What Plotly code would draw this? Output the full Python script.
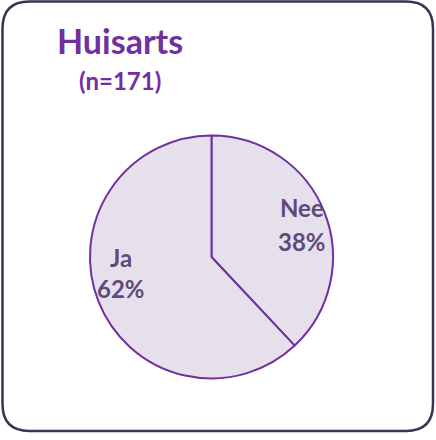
import plotly.graph_objects as go

labels = ["Nee", "Ja"]
values = [38, 62]
title_text = "Huisarts"
subtitle_text = "(n=171)"

W, H = 436, 440

fig = go.Figure()
fig.add_trace(go.Pie(
    labels=labels,
    values=values,
    sort=False,
    direction="clockwise",
    rotation=0,
    marker=dict(colors=["#e6e0ec", "#e6e0ec"], line=dict(color="#7030a0", width=2)),
    textposition="none",
    hoverinfo="label+percent",
    showlegend=False,
    domain=dict(x=[90 / W, 333 / W], y=[1 - 378.5 / H, 1 - 135.5 / H]),
))

# rounded border
x0, x1, y0, y1 = 2.5, 433, 1.5, 431
r = 27
path = (f"M {x0+r},{y0} L {x1-r},{y0} Q {x1},{y0} {x1},{y0+r} "
        f"L {x1},{y1-r} Q {x1},{y1} {x1-r},{y1} L {x0+r},{y1} "
        f"Q {x0},{y1} {x0},{y1-r} L {x0},{y0+r} Q {x0},{y0} {x0+r},{y0} Z")

# label positions (pixels) for each slice: (x, y of name, y of percent)
label_pos = [(302, 208, 241), (121, 257, 288)]
total = sum(values)
lab_font = dict(family="Lato", size=24, color="#604a7b", weight="bold")
annotations = [
    dict(text=title_text, x=120 / W, y=1 - 40 / H, xref="paper", yref="paper",
         showarrow=False, xanchor="center", yanchor="middle",
         font=dict(family="Lato", size=34, color="#7030a0", weight="bold")),
    dict(text=subtitle_text, x=120 / W, y=1 - 80 / H, xref="paper", yref="paper",
         showarrow=False, xanchor="center", yanchor="middle",
         font=dict(family="Lato", size=24, color="#7030a0", weight="bold")),
]
for lab, val, (lx, ly1, ly2) in zip(labels, values, label_pos):
    annotations.append(dict(text=lab, x=lx / W, y=1 - ly1 / H, xref="paper", yref="paper",
                            showarrow=False, xanchor="center", yanchor="middle", font=lab_font))
    annotations.append(dict(text=f"{round(100 * val / total)}%", x=lx / W, y=1 - ly2 / H,
                            xref="paper", yref="paper", showarrow=False,
                            xanchor="center", yanchor="middle", font=lab_font))

fig.update_layout(
    width=W, height=H,
    margin=dict(l=0, r=0, t=0, b=0),
    paper_bgcolor="white",
    plot_bgcolor="white",
    xaxis=dict(visible=False, range=[0, W], domain=[0, 1]),
    yaxis=dict(visible=False, range=[H, 0], domain=[0, 1]),
    shapes=[dict(type="path", path=path, xref="x", yref="y",
                 line=dict(color="#3f3151", width=2.5), layer="above")],
    annotations=annotations,
)

fig.write_html("out.html",
               config={"displayModeBar": False},
               post_script="document.body.style.margin='0';document.body.style.overflow='hidden';")
